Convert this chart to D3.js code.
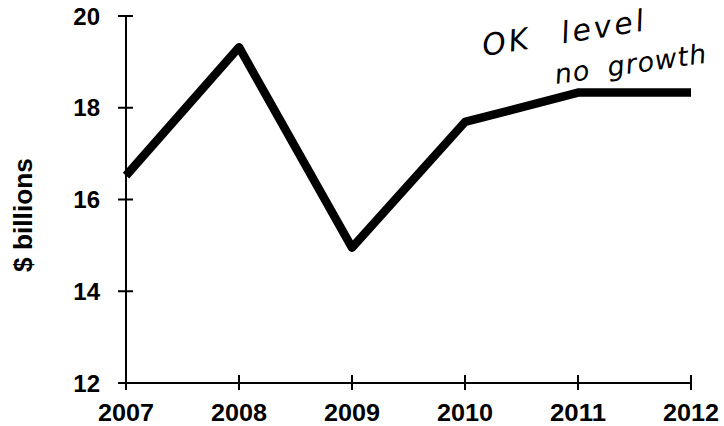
<!DOCTYPE html>
<html><head><meta charset="utf-8">
<script src="https://cdn.jsdelivr.net/npm/d3@7"></script>
<style>html,body{margin:0;padding:0;background:#fff;overflow:hidden}</style>
</head><body>
<svg id="c" width="724" height="426"></svg>
<script>
const years = [2007, 2008, 2009, 2010, 2011, 2012];
const values = [16.52, 19.32, 14.95, 17.69, 18.33, 18.33];
const yTicks = [12, 14, 16, 18, 20];
const yLabel = "$ billions";
const noteLines = ["OK level", "no growth"];

const svg = d3.select("#c");
const x = d3.scaleLinear().domain([2007, 2012]).range([126, 691]);
const y = d3.scaleLinear().domain([12, 20]).range([383, 16]);
const font = "'Liberation Sans', Arial, sans-serif";

// axes lines
svg.append("line").attr("x1", x(2007)).attr("x2", x(2007)).attr("y1", y(20)).attr("y2", y(12))
  .attr("stroke", "#000").attr("stroke-width", 2);
svg.append("line").attr("x1", x(2007)).attr("x2", x(2012)).attr("y1", y(12)).attr("y2", y(12))
  .attr("stroke", "#000").attr("stroke-width", 2);

// y ticks (crossing)
svg.selectAll(".yt").data(yTicks).join("line")
  .attr("x1", x(2007) - 8).attr("x2", x(2007) + 7)
  .attr("y1", d => y(d)).attr("y2", d => y(d))
  .attr("stroke", "#000").attr("stroke-width", 2);
svg.selectAll(".yl").data(yTicks).join("text")
  .attr("x", 100).attr("y", d => y(d)).attr("dy", "0.36em")
  .attr("text-anchor", "end").attr("font-family", font).attr("font-weight", "bold")
  .attr("font-size", 24).text(d => d);

// x ticks
svg.selectAll(".xt").data(years).join("line")
  .attr("x1", d => x(d)).attr("x2", d => x(d))
  .attr("y1", y(12) - 8).attr("y2", y(12) + 7)
  .attr("stroke", "#000").attr("stroke-width", 2);
svg.selectAll(".xl").data(years).join("text")
  .attr("x", d => x(d)).attr("y", 421)
  .attr("text-anchor", "middle").attr("font-family", font).attr("font-weight", "bold")
  .attr("font-size", 23).attr("textLength", 56).attr("lengthAdjust", "spacingAndGlyphs")
  .text(d => d);

// y label
svg.append("text").attr("transform", "translate(32,215) rotate(-90)")
  .attr("text-anchor", "middle").attr("font-family", font).attr("font-weight", "bold")
  .attr("font-size", 25).attr("textLength", 114).attr("lengthAdjust", "spacingAndGlyphs")
  .text(yLabel);

// line
const line = d3.line().x((d, i) => x(years[i])).y(d => y(d));
svg.append("path").datum(values).attr("d", line)
  .attr("fill", "none").attr("stroke", "#000").attr("stroke-width", 8.5)
  .attr("stroke-linejoin", "round").attr("stroke-linecap", "butt");

// handwritten note
const noteFont = "'DejaVu Sans', sans-serif";
svg.append("text").attr("transform", "translate(484,56) rotate(-9)")
  .attr("font-family", noteFont).attr("font-style", "italic")
  .attr("font-size", 30).attr("fill", "#000")
  .attr("letter-spacing", 3).attr("word-spacing", 18).text(noteLines[0]);
svg.append("text").attr("transform", "translate(556,84) rotate(-8)")
  .attr("font-family", noteFont).attr("font-style", "italic")
  .attr("font-size", 27).attr("fill", "#000")
  .attr("letter-spacing", 1).attr("word-spacing", 8).text(noteLines[1]);
</script>
</body></html>
